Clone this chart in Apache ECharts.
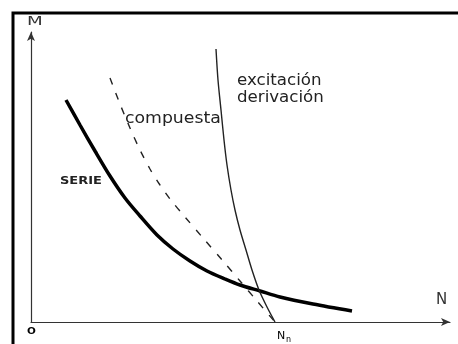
<!DOCTYPE html>
<html><head><meta charset="utf-8">
<script src="https://cdn.jsdelivr.net/npm/echarts@6/dist/echarts.min.js"></script>
<style>html,body{margin:0;padding:0;background:#fff}#c{width:458px;height:344px}</style>
</head><body><div id="c"></div>
<script>
// Curve data (N, M) in arbitrary units
const serieN = [35, 49, 64, 79, 94, 109, 126, 142, 159, 176, 194, 209, 229, 249, 282, 321];
const serieM = [222, 197, 171, 146, 124, 106, 87, 73, 61, 51, 43, 37, 31, 25, 18, 11];
const derivN = [185, 187, 190, 193, 196, 200, 204, 209, 215, 221, 228, 236, 244];
const derivM = [273, 242, 212, 182, 157, 132, 112, 92, 72, 52, 32, 15, 0];
const compN = [79, 89, 99, 109, 119, 129, 139, 154, 172, 192, 209, 226, 244];
const compM = [244, 218, 194, 172, 153, 137, 123, 105, 84, 61, 41, 21, 0];
const labels = { serie: 'SERIE', comp: 'compuesta', deriv1: 'excitación', deriv2: 'derivación', xName: 'N', yName: 'M', origin: 'O', nn: 'N', nnSub: 'n' };

const zip = (a, b) => a.map((v, i) => [v, b[i]]);
const chart = echarts.init(document.getElementById('c'));
const axisLine = { show: true, lineStyle: { color: '#333', width: 1.2 }, symbol: ['none', 'arrow'], symbolSize: [6, 9] };
const font = 'DejaVu Sans, Verdana, sans-serif';
function txt(text, x, y, size, opts) {
  opts = opts || {};
  return { type: 'text', x: x, y: y, scaleX: opts.sx || 1, scaleY: 1,
    style: { x: 0, y: 0, text: text, font: (opts.bold ? 'bold ' : '') + size + 'px ' + font, fill: opts.fill || '#222', verticalAlign: 'top' } };
}
chart.setOption({
  animation: false,
  grid: { left: 31, top: 32, width: 419, height: 290 },
  xAxis: { type: 'value', min: 0, max: 419, axisLine, axisTick: { show: false }, axisLabel: { show: false }, splitLine: { show: false } },
  yAxis: { type: 'value', min: 0, max: 290, axisLine, axisTick: { show: false }, axisLabel: { show: false }, splitLine: { show: false } },
  series: [
    { type: 'line', smooth: 0.3, symbol: 'none', data: zip(serieN, serieM), lineStyle: { color: '#000', width: 3.5 } },
    { type: 'line', smooth: 0.3, symbol: 'none', data: zip(derivN, derivM), lineStyle: { color: '#222', width: 1.4 } },
    { type: 'line', smooth: 0.3, symbol: 'none', data: zip(compN, compM), lineStyle: { color: '#222', width: 1.4, type: [7, 9] } }
  ],
  graphic: [
    { type: 'rect', shape: { x: 13, y: 13, width: 460, height: 340 }, style: { fill: 'none', stroke: '#000', lineWidth: 3 } },
    txt(labels.yName, 27, 15, 13, { sx: 1.4, fill: '#333' }),
    txt(labels.xName, 436, 293, 15, { fill: '#333' }),
    txt(labels.origin, 27, 328, 8, { bold: true, sx: 1.3, fill: '#000' }),
    txt(labels.nn, 277, 331, 11, { fill: '#000' }),
    txt(labels.nnSub, 286, 336, 8, { fill: '#000' }),
    txt(labels.deriv1, 237, 73, 16, { sx: 1.04 }),
    txt(labels.deriv2, 237, 90, 16, { sx: 1.04 }),
    txt(labels.comp, 125, 111, 16, { sx: 1.08 }),
    txt(labels.serie, 60, 176, 10, { bold: true, sx: 1.3 })
  ]
});
</script></body></html>
